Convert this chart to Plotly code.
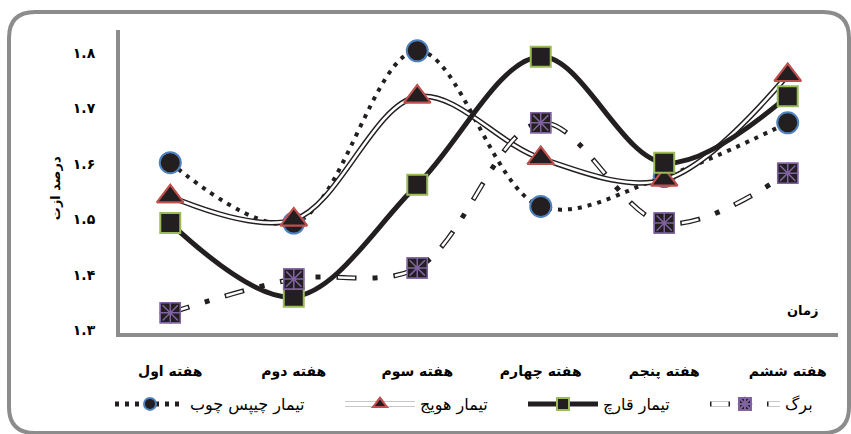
import plotly.graph_objects as go

# ---- data ----
weeks = ["هفته اول", "هفته دوم", "هفته سوم", "هفته چهارم", "هفته پنجم", "هفته ششم"]
chip = [1.602, 1.493, 1.804, 1.523, 1.577, 1.674]     # تیمار چیپس چوب
carrot = [1.541, 1.499, 1.721, 1.610, 1.571, 1.760]   # تیمار هویج
fungi = [1.493, 1.360, 1.562, 1.793, 1.602, 1.722]    # تیمار قارچ
leaf = [1.331, 1.392, 1.412, 1.674, 1.493, 1.583]     # برگ
y_tickvals = [1.3, 1.4, 1.5, 1.6, 1.7, 1.8]
y_ticktext = ["۱.۳", "۱.۴", "۱.۵", "۱.۶", "۱.۷", "۱.۸"]
name_chip = "تیمار چیپس چوب"
name_carrot = "تیمار هویج"
name_fungi = "تیمار قارچ"
name_leaf = "برگ"
y_title = "درصد ازت"
x_title = "زمان"

FONT = "DejaVu Sans"
BLACK = "#231f20"
spl = dict(shape="spline", smoothing=1.0)

m_chip = dict(symbol="circle", size=21, color=BLACK, line=dict(color="#4f81bd", width=2))
m_carrot = dict(symbol="triangle-up", size=23, color=BLACK, line=dict(color="#c0504d", width=2))
m_fungi = dict(symbol="square", size=20, color=BLACK, line=dict(color="#9bbb59", width=2))
m_leaf = dict(symbol="square", size=20, color=BLACK, line=dict(color="#8064a2", width=1.5))
m_leaf_x = dict(symbol="asterisk-open", size=18, color="#8064a2", line=dict(color="#8064a2", width=1.5))

fig = go.Figure()

# chip wood: dotted line, blue-edged circles
fig.add_trace(go.Scatter(x=weeks, y=chip, mode="lines+markers", name=name_chip, legend="legend",
                         line=dict(color=BLACK, width=4, dash="4px,6px", **spl), marker=m_chip))

# carrot: double line (black outer + white inner), red-edged triangles
fig.add_trace(go.Scatter(x=weeks, y=carrot, mode="lines+markers", name=name_carrot, legend="legend2",
                         line=dict(color=BLACK, width=5.5, **spl), marker=m_carrot))
fig.add_trace(go.Scatter(x=weeks, y=carrot, mode="lines", name=" ", legend="legend5", hoverinfo="skip",
                         line=dict(color="white", width=2.5, **spl)))
fig.add_trace(go.Scatter(x=weeks, y=carrot, mode="markers", name=" ", legend="legend6", hoverinfo="skip",
                         marker=m_carrot))

# fungi: thick solid line, green-edged squares
fig.add_trace(go.Scatter(x=weeks, y=fungi, mode="lines+markers", name=name_fungi, legend="legend3",
                         line=dict(color=BLACK, width=5, **spl), marker=m_fungi))

# leaf: dash-dot with hollow dashes, purple asterisk squares
fig.add_trace(go.Scatter(x=weeks, y=leaf, mode="lines+markers", name=name_leaf, legend="legend4",
                         line=dict(color=BLACK, width=5, dash="20px,16px,5px,16px", **spl), marker=m_leaf))
fig.add_trace(go.Scatter(x=weeks, y=leaf, mode="lines", name=" ", legend="legend7", hoverinfo="skip",
                         line=dict(color="white", width=2.5, dash="0px,1.5px,17px,38.5px", **spl)))
fig.add_trace(go.Scatter(x=weeks, y=leaf, mode="markers", name=" ", legend="legend8", hoverinfo="skip",
                         marker=m_leaf))
fig.add_trace(go.Scatter(x=weeks, y=leaf, mode="markers", name=" ", legend="legend9", hoverinfo="skip",
                         marker=m_leaf_x))

# rounded chart border (pixel offsets from plot origin: left=120px, bottom=333px)
L, R, T, B, r = -111, 729, 321, -100, 26
border = (f"M{L+r},{T} L{R-r},{T} Q{R},{T} {R},{T-r} L{R},{B+r} Q{R},{B} {R-r},{B} "
          f"L{L+r},{B} Q{L},{B} {L},{B+r} L{L},{T-r} Q{L},{T} {L+r},{T} Z")
fig.add_shape(type="path", path=border, xref="paper", yref="paper",
              xsizemode="pixel", ysizemode="pixel", xanchor=0, yanchor=0,
              line=dict(color="#8c8c8c", width=4), layer="below")

fig.add_annotation(text=y_title, xref="paper", yref="paper", x=-0.0905, y=0.478,
                   textangle=-90, showarrow=False, xanchor="center", yanchor="middle",
                   font=dict(family=FONT, size=13, color="black", weight="bold"))
fig.add_annotation(text=x_title, xref="paper", yref="paper", x=0.951, y=0.073,
                   showarrow=False, xanchor="center", yanchor="middle",
                   font=dict(family=FONT, size=13, color="black", weight="bold"))


def leg(xpx):
    return dict(orientation="h", x=(xpx - 120) / 718, xanchor="left", y=-0.2343, yanchor="middle",
                font=dict(family=FONT, size=16, color="black"), itemwidth=70,
                itemsizing="constant", bgcolor="rgba(0,0,0,0)", borderwidth=0)


legend_x = {"legend": 110, "legend2": 340, "legend3": 523, "legend4": 705,
            "legend5": 340, "legend6": 340, "legend7": 705, "legend8": 705, "legend9": 705}

fig.update_layout(
    width=851, height=434,
    margin=dict(l=120, r=13, t=30, b=101),
    paper_bgcolor="white", plot_bgcolor="white",
    font=dict(family=FONT, color="black"),
    showlegend=True,
    xaxis=dict(type="category", showline=True, linecolor="#8c8c8c", linewidth=4,
               showgrid=False, zeroline=False, ticks="", ticklabelstandoff=22,
               tickfont=dict(family=FONT, size=14, color="black", weight="bold")),
    yaxis=dict(range=[1.2946, 1.8415], showline=True, linecolor="#8c8c8c", linewidth=4,
               showgrid=False, zeroline=False, ticks="",
               tickvals=y_tickvals, ticktext=y_ticktext, ticklabelstandoff=18,
               tickfont=dict(family=FONT, size=14, color="black", weight="bold")),
    **{k: leg(v) for k, v in legend_x.items()},
)

fig.write_html("out.html", config={"displayModeBar": False},
               post_script="document.body.style.margin='0px';")
